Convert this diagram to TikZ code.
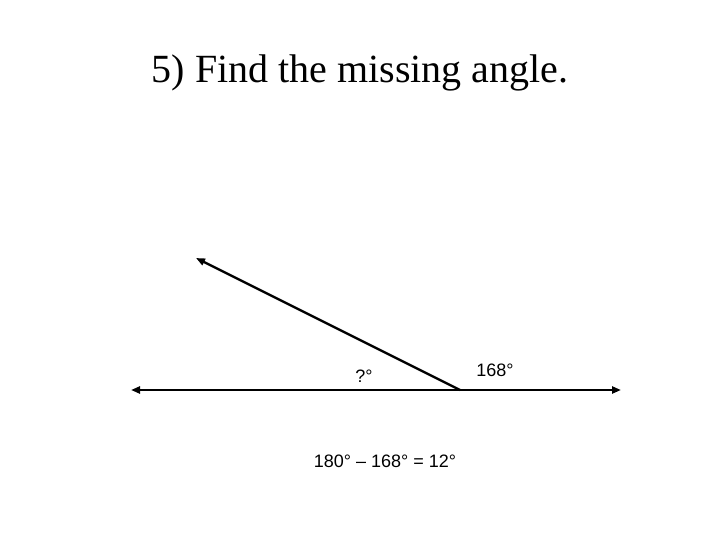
\documentclass[tikz,border=0pt]{standalone}
\usepackage{fontspec}
\setmainfont{Liberation Serif}
\newfontfamily\labelfont{Liberation Sans}
\usetikzlibrary{arrows.meta}
\begin{document}
\begin{tikzpicture}[x=1pt,y=-1pt,
  ray/.style={line width=2.4pt,-{Triangle[length=9pt,width=7pt]}},
  lbl/.style={font=\labelfont\fontsize{18}{21}\selectfont,inner sep=0pt},
  ttl/.style={font=\fontsize{40}{46}\selectfont,inner sep=0pt}]
\useasboundingbox (0,0) rectangle (720,540);
\node[ttl] (title) at (360,73) {5) Find the missing angle.};
\coordinate (v) at (460,390);
\coordinate (L) at (131,390);
\coordinate (R) at (621,390);
\coordinate (U) at (196,258);
\draw[ray] (v) -- (L);
\draw[ray] (v) -- (R);
\draw[ray] (v) -- (U);
\node[lbl] (q) at (364,376) {?°};
\node[lbl] (a) at (495,370) {168°};
\node[lbl] (eq) at (385,461) {180° – 168° = 12°};
\end{tikzpicture}
\end{document}
